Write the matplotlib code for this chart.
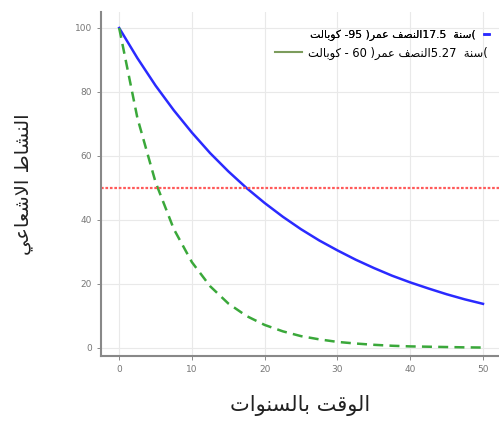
import numpy as np
import matplotlib.pyplot as plt

# formes de presentation arabe : (isolee, finale, initiale, mediane)
FORMS = {
    'ا': ('\ufe8d', '\ufe8e', None, None),
    'إ': ('\ufe87', '\ufe88', None, None),
    'ب': ('\ufe8f', '\ufe90', '\ufe91', '\ufe92'),
    'ة': ('\ufe93', '\ufe94', None, None),
    'ت': ('\ufe95', '\ufe96', '\ufe97', '\ufe98'),
    'ر': ('\ufead', '\ufeae', None, None),
    'س': ('\ufeb1', '\ufeb2', '\ufeb3', '\ufeb4'),
    'ش': ('\ufeb5', '\ufeb6', '\ufeb7', '\ufeb8'),
    'ص': ('\ufeb9', '\ufeba', '\ufebb', '\ufebc'),
    'ط': ('\ufec1', '\ufec2', '\ufec3', '\ufec4'),
    'ع': ('\ufec9', '\ufeca', '\ufecb', '\ufecc'),
    'ف': ('\ufed1', '\ufed2', '\ufed3', '\ufed4'),
    'ق': ('\ufed5', '\ufed6', '\ufed7', '\ufed8'),
    'ك': ('\ufed9', '\ufeda', '\ufedb', '\ufedc'),
    'ل': ('\ufedd', '\ufede', '\ufedf', '\ufee0'),
    'م': ('\ufee1', '\ufee2', '\ufee3', '\ufee4'),
    'ن': ('\ufee5', '\ufee6', '\ufee7', '\ufee8'),
    'و': ('\ufeed', '\ufeee', None, None),
    'ي': ('\ufef1', '\ufef2', '\ufef3', '\ufef4'),
    'لا': ('\ufefb', '\ufefc', None, None),
}


def ar(word):
    # decoupe avec ligature lam-alef
    units = []
    i = 0
    while i < len(word):
        if word[i] == 'ل' and i + 1 < len(word) and word[i + 1] == 'ا':
            units.append('لا')
            i += 2
        else:
            units.append(word[i])
            i += 1
    out = []
    for k, u in enumerate(units):
        prev_joins = k > 0 and FORMS[units[k - 1]][2] is not None
        next_ok = k + 1 < len(units) and FORMS[u][2] is not None
        iso, fin, ini, med = FORMS[u]
        if prev_joins and next_ok:
            out.append(med)
        elif prev_joins:
            out.append(fin)
        elif next_ok:
            out.append(ini)
        else:
            out.append(iso)
    return ''.join(reversed(out))


# donnees
years = [0, 2.5, 5, 7.5, 10, 12.5, 15, 17.5, 20, 22.5, 25,
         27.5, 30, 32.5, 35, 37.5, 40, 42.5, 45, 47.5, 50]
activity_a = [100, 90.6, 82.0, 74.3, 67.3, 60.9, 55.2, 50.0, 45.3, 41.0, 37.1,
              33.6, 30.5, 27.6, 25.0, 22.6, 20.5, 18.6, 16.8, 15.2, 13.8]
activity_b = [100, 71.9, 51.8, 37.2, 26.8, 19.3, 13.9, 10.0, 7.2, 5.2, 3.7,
              2.7, 1.9, 1.4, 1.0, 0.7, 0.5, 0.4, 0.3, 0.2, 0.14]
half_level = 50
xticks = [0, 10, 20, 30, 40, 50]
yticks = [0, 20, 40, 60, 80, 100]

label_a = ar('كوبالت') + ' -95 )' + ar('عمر') + ' ' + ar('النصف') + '17.5  ' + ar('سنة') + '('
label_b = ar('كوبالت') + ' - 60 )' + ar('عمر') + ' ' + ar('النصف') + '5.27  ' + ar('سنة') + '('
xlabel = ar('بالسنوات') + ' ' + ar('الوقت')
ylabel = ar('الاشعاعي') + ' ' + ar('النشاط')

plt.rcParams['font.family'] = ['DejaVu Sans']
fig = plt.figure(figsize=(4.99, 4.21), dpi=100)
ax = fig.add_axes([0.2024, 0.1544, 0.7976, 0.8171])

la, = ax.plot(years, activity_a, color='#2a2aff', lw=1.8)
lb, = ax.plot(years, activity_b, color='#3aa83a', lw=1.8, ls=(0, (4, 2.5)))
ax.axhline(half_level, color='#ff5a5a', lw=1.6, ls=(0, (1.2, 0.8)))

ax.set_xlim(-2.5, 52.2)
ax.set_ylim(-2.5, 105)
ax.set_xticks(xticks)
ax.set_yticks(yticks)
ax.grid(True, color='#e9e9e9', lw=0.8)
ax.set_axisbelow(True)
for s in ['top', 'right']:
    ax.spines[s].set_visible(False)
for s in ['left', 'bottom']:
    ax.spines[s].set_color('#888888')
    ax.spines[s].set_linewidth(1.5)
ax.tick_params(colors='#777777', labelsize=6.5, length=3, width=0.6)

ax.set_xlabel(xlabel, fontsize=15, color='#222222', labelpad=15)
ax.set_ylabel(ylabel, fontsize=14, color='#222222', labelpad=30)

# deux legendes, comme sur l'original
leg1 = fig.legend([la], [label_a], loc='center right', bbox_to_anchor=(0.988, 0.917),
                  frameon=False, fontsize=7.8, markerfirst=False, handlelength=0.4,
                  handletextpad=0.8, borderaxespad=0)
fig.add_artist(leg1)
lb_leg, = ax.plot([], [], color='#7c9c5c', lw=1.5)
fig.legend([lb_leg], [label_b], loc='center right', bbox_to_anchor=(0.986, 0.874),
           frameon=False, fontsize=8.3, handlelength=2.3, handletextpad=0.5,
           borderaxespad=0)

plt.savefig('out.png', dpi=100)
